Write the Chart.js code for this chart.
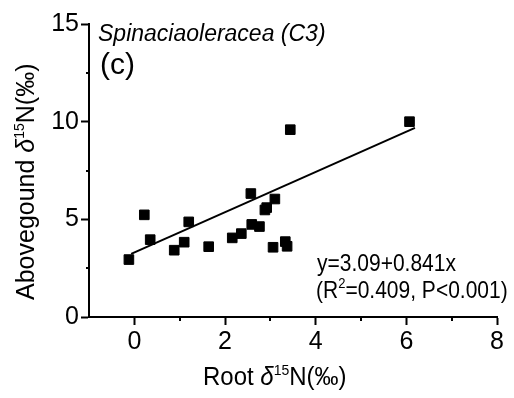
<!DOCTYPE html>
<html>
<head>
<meta charset="utf-8">
<script src="https://cdn.jsdelivr.net/npm/chart.js@4"></script>
<style>
  html, body { margin: 0; padding: 0; background: #fff; }
  #wrap { width: 514px; height: 398px; position: relative; }
</style>
</head>
<body>
<div id="wrap"><canvas id="c" width="514" height="398"></canvas></div>
<script>
// Data
const rootN  = [-0.12, 0.22, 0.35, 0.88, 1.10, 1.20, 1.64, 2.16, 2.36, 2.57, 2.59, 2.76, 2.88, 2.92, 3.10, 3.06, 3.33, 3.37, 3.44, 6.07];
const aboveN = [ 2.94, 5.23, 3.96, 3.42, 3.83, 4.87, 3.60, 4.05, 4.27, 6.32, 4.74, 4.63, 5.48, 5.60, 6.04, 3.57, 3.86, 3.62, 9.59, 10.00];
const fitX = [-0.07, 6.19];
const fitY = [3.23, 9.68];
const xTicks = [0, 2, 4, 6, 8];
const yTicks = [0, 5, 10, 15];
const xMinorTicks = [1, 3, 5, 7];
const yMinorTicks = [2.5, 7.5, 12.5];

const FONT = "'Liberation Sans', Arial, sans-serif";

// draws text segments with an optional vertical stretch (sy)
function richText(ctx, segs, x, y, sy) {
  sy = sy || 1;
  ctx.save();
  ctx.translate(x, y);
  ctx.scale(1, sy);
  let cx = 0;
  for (const s of segs) {
    ctx.font = s.font;
    ctx.fillText(s.t, cx, (s.dy || 0) / sy);
    cx += ctx.measureText(s.t).width;
  }
  ctx.restore();
}

const decor = {
  id: 'decor',
  afterDraw(chart) {
    const ctx = chart.ctx;
    const xs = chart.scales.x, ys = chart.scales.y;
    ctx.save();
    // minor ticks
    ctx.strokeStyle = '#000';
    ctx.lineWidth = 2;
    ctx.beginPath();
    for (const v of xMinorTicks) {
      const px = Math.round(xs.getPixelForValue(v));
      ctx.moveTo(px, ys.bottom); ctx.lineTo(px, ys.bottom + 4);
    }
    for (const v of yMinorTicks) {
      const py = Math.round(ys.getPixelForValue(v));
      ctx.moveTo(xs.left, py); ctx.lineTo(xs.left - 3, py);
    }
    ctx.stroke();

    ctx.fillStyle = '#000';
    ctx.textBaseline = 'alphabetic';
    ctx.textAlign = 'left';
    // x title
    richText(ctx, [
      {t: 'Root ', font: `24px ${FONT}`},
      {t: 'δ', font: `italic 24px ${FONT}`},
      {t: '15', font: `14px ${FONT}`, dy: -10},
      {t: 'N(‰)', font: `24px ${FONT}`}
    ], 203, 385, 1.07);
    // y title
    ctx.save();
    ctx.translate(34, 300);
    ctx.rotate(-Math.PI / 2);
    richText(ctx, [
      {t: 'Abovegound ', font: `25px ${FONT}`},
      {t: 'δ', font: `italic 25px ${FONT}`},
      {t: '15', font: `14px ${FONT}`, dy: -10},
      {t: 'N(‰)', font: `25px ${FONT}`}
    ], 0, 0, 1.05);
    ctx.restore();
    // panel labels
    richText(ctx, [{t: 'Spinaciaoleracea (C3)', font: `italic 23px ${FONT}`}], 98, 41);
    richText(ctx, [{t: '(c)', font: `30px ${FONT}`}], 100, 74);
    // equation
    richText(ctx, [{t: 'y=3.09+0.841x', font: `21px ${FONT}`}], 317, 271, 1.1);
    richText(ctx, [
      {t: '(R', font: `21px ${FONT}`},
      {t: '2', font: `13px ${FONT}`, dy: -10},
      {t: '=0.409, P<0.001)', font: `21px ${FONT}`}
    ], 316, 298, 1.1);
    ctx.restore();
  }
};

new Chart(document.getElementById('c'), {
  type: 'scatter',
  data: {
    datasets: [
      {
        type: 'line',
        data: fitX.map((x, i) => ({x, y: fitY[i]})),
        borderColor: '#000',
        borderWidth: 2,
        pointRadius: 0,
        fill: false,
        order: 2
      },
      {
        data: rootN.map((x, i) => ({x, y: aboveN[i]})),
        pointStyle: 'rect',
        pointRadius: 6.8,
        backgroundColor: '#000',
        borderColor: '#000',
        borderWidth: 1,
        order: 1
      }
    ]
  },
  options: {
    responsive: false,
    animation: false,
    devicePixelRatio: 1,
    layout: { padding: { left: 0, right: 17, top: 24, bottom: 0 } },
    plugins: { legend: { display: false }, tooltip: { enabled: false } },
    scales: {
      x: {
        type: 'linear',
        min: -1, max: 8,
        afterBuildTicks: s => { s.ticks = xTicks.map(v => ({value: v})); },
        afterFit: s => { s.height = 81; },
        grid: { drawOnChartArea: false, drawTicks: true, tickLength: 8, tickColor: '#000', tickWidth: 2 },
        border: { display: true, color: '#000', width: 2 },
        ticks: { color: '#000', font: { family: FONT, size: 25 }, padding: 2, maxRotation: 0 }
      },
      y: {
        type: 'linear',
        min: 0, max: 15,
        afterBuildTicks: s => { s.ticks = yTicks.map(v => ({value: v})); },
        afterFit: s => { s.width = 89; },
        grid: { drawOnChartArea: false, drawTicks: true, tickLength: 8, tickColor: '#000', tickWidth: 2 },
        border: { display: true, color: '#000', width: 2 },
        ticks: { color: '#000', font: { family: FONT, size: 25 }, padding: 2 }
      }
    }
  },
  plugins: [decor]
});
</script>
</body>
</html>
